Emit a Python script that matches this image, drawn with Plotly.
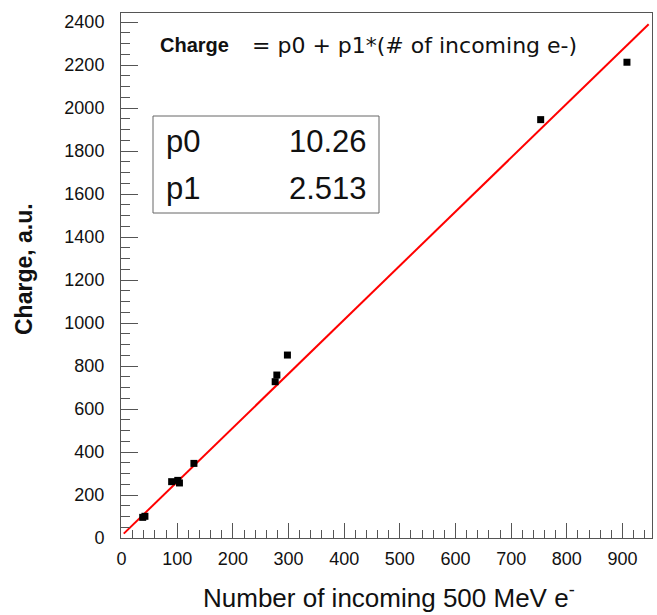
import numpy as np
import plotly.graph_objects as go

# ---- data ----
n_electrons = [38, 42, 90, 101, 104, 130, 276, 279, 298, 753, 908]
charge = [96, 101, 262, 268, 256, 347, 727, 758, 851, 1946, 2213]
p0 = 10.26
p1 = 2.513
fit_x_range = [4, 947]
x_ticks = list(range(0, 1000, 100))
y_ticks = list(range(0, 2600, 200))

fit_x = np.array(fit_x_range, dtype=float)
fit_y = p0 + p1 * fit_x

W, H = 657, 615
L, R, T, B = 121, 5, 13, 77
PW, PH = W - L - R, H - T - B


def px(xp):
    return (xp - L) / PW


def py(yp):
    return (H - B - yp) / PH


fig = go.Figure()
fig.add_trace(go.Scatter(x=fit_x, y=fit_y, mode="lines",
                         line=dict(color="#ff0000", width=2), showlegend=False))
fig.add_trace(go.Scatter(x=n_electrons, y=charge, mode="markers",
                         marker=dict(symbol="square", size=7, color="black"),
                         showlegend=False))

axcol = "#555555"
fig.update_xaxes(range=[-1, 953], showgrid=False, zeroline=False, automargin=False,
                 showline=True, linecolor=axcol, linewidth=1, mirror=True,
                 ticks="inside", ticklen=15, tickcolor=axcol, tickwidth=1,
                 tickvals=x_ticks, ticktext=[str(v) for v in x_ticks],
                 tickfont=dict(family="Liberation Sans, Arial", size=18, color="#111"),
                 ticklabelstandoff=4,
                 minor=dict(ticks="inside", ticklen=8, dtick=20, tick0=0,
                            tickcolor=axcol, tickwidth=1, showgrid=False))
fig.update_yaxes(range=[0, 2442], showgrid=False, zeroline=False, automargin=False,
                 showline=True, linecolor=axcol, linewidth=1, mirror=True,
                 ticks="inside", ticklen=17, tickcolor=axcol, tickwidth=1,
                 tickvals=y_ticks, ticktext=[str(v) for v in y_ticks],
                 tickfont=dict(family="Liberation Sans, Arial", size=18, color="#111"),
                 ticklabelstandoff=12,
                 minor=dict(ticks="inside", ticklen=9, dtick=50, tick0=0,
                            tickcolor=axcol, tickwidth=1, showgrid=False))

annotations = [
    # axis titles
    dict(x=px(389), y=py(596), xref="paper", yref="paper",
         text="Number of incoming 500 MeV e<sup>-</sup>", showarrow=False,
         xanchor="center", yanchor="middle",
         font=dict(family="Liberation Sans, Arial", size=26, color="#111")),
    dict(x=px(24), y=py(269), xref="paper", yref="paper",
         text="<b>Charge, a.u.</b>", showarrow=False, textangle=-90,
         xanchor="center", yanchor="middle",
         font=dict(family="Liberation Sans, Arial", size=23, color="#111")),
    # formula
    dict(x=px(158), y=py(45), xref="paper", yref="paper",
         text="<b>Charge</b>", showarrow=False, xanchor="left", yanchor="middle",
         font=dict(family="Liberation Sans, Arial", size=20, color="#111")),
    dict(x=px(250), y=py(45), xref="paper", yref="paper",
         text="= p0 + p1*(# of incoming e-)", showarrow=False,
         xanchor="left", yanchor="middle",
         font=dict(family="DejaVu Sans", size=22, color="#111")),
    # stats box
    dict(x=px(164), y=py(142), xref="paper", yref="paper", text="p0",
         showarrow=False, xanchor="left", yanchor="middle",
         font=dict(family="Liberation Sans, Arial", size=31, color="#111")),
    dict(x=px(369), y=py(142), xref="paper", yref="paper", text=f"{p0:.2f}",
         showarrow=False, xanchor="right", yanchor="middle",
         font=dict(family="Liberation Sans, Arial", size=31, color="#111")),
    dict(x=px(164), y=py(188), xref="paper", yref="paper", text="p1",
         showarrow=False, xanchor="left", yanchor="middle",
         font=dict(family="Liberation Sans, Arial", size=31, color="#111")),
    dict(x=px(369), y=py(188), xref="paper", yref="paper", text=f"{p1:.3f}",
         showarrow=False, xanchor="right", yanchor="middle",
         font=dict(family="Liberation Sans, Arial", size=31, color="#111")),
]

fig.update_layout(
    width=W, height=H,
    margin=dict(l=L, r=R, t=T, b=B, pad=0, autoexpand=False),
    paper_bgcolor="white", plot_bgcolor="white",
    annotations=annotations,
    shapes=[dict(type="rect", xref="paper", yref="paper",
                 x0=px(153), x1=px(379), y0=py(213), y1=py(116),
                 line=dict(color="#666666", width=1), fillcolor="rgba(0,0,0,0)")],
)

fig.write_html(
    "out.html",
    config={"displayModeBar": False},
    post_script="document.body.style.margin='0';document.body.style.overflow='hidden';",
)
